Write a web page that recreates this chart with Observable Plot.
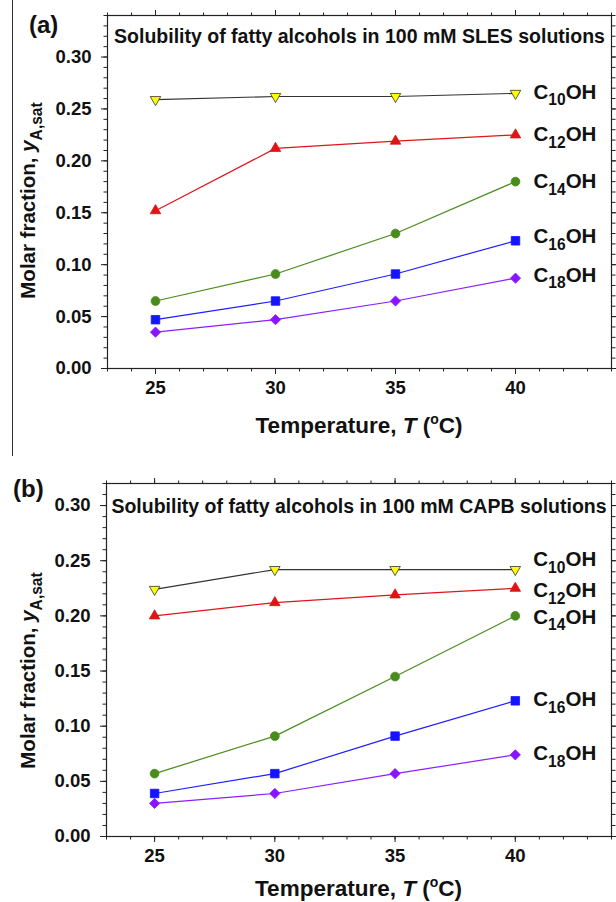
<!DOCTYPE html>
<html><head><meta charset="utf-8">
<script src="https://cdn.jsdelivr.net/npm/d3@7"></script>
<script src="https://cdn.jsdelivr.net/npm/@observablehq/plot@0.6"></script>
<style>
body{margin:0;background:#fff;}
#chart{position:relative;width:616px;height:902px;overflow:hidden;background:#fff;}
#chart svg{display:block;}
.border{position:absolute;left:12px;top:0;height:456px;border-left:1.3px solid #333;}
</style></head><body><div id="chart"><div class="border"></div></div>
<script>
// ---- data ----
const temperatures = [25, 30, 35, 40];
const alcohols = ["C10OH", "C12OH", "C14OH", "C16OH", "C18OH"];
const alcoholLabels = ["C_{10}OH", "C_{12}OH", "C_{14}OH", "C_{16}OH", "C_{18}OH"];

// (a) 100 mM SLES
const slesC10 = [0.259, 0.262, 0.262, 0.265];
const slesC12 = [0.152, 0.212, 0.219, 0.225];
const slesC14 = [0.065, 0.091, 0.130, 0.180];
const slesC16 = [0.047, 0.065, 0.091, 0.123];
const slesC18 = [0.035, 0.047, 0.065, 0.087];
const slesLabelY = [0.266, 0.225, 0.180, 0.127, 0.090];

// (b) 100 mM CAPB
const capbC10 = [0.224, 0.242, 0.242, 0.242];
const capbC12 = [0.200, 0.212, 0.219, 0.225];
const capbC14 = [0.057, 0.091, 0.145, 0.200];
const capbC16 = [0.039, 0.057, 0.091, 0.123];
const capbC18 = [0.030, 0.039, 0.057, 0.074];
const capbLabelY = [0.251, 0.223, 0.199, 0.124, 0.075];

const xDomain = [23, 44];
const xMajorTicks = [25, 30, 35, 40];
const xMinorTicks = d3.range(23, 45, 1);
const yMajorTicks = [0, 0.05, 0.10, 0.15, 0.20, 0.25, 0.30];
const slesYDomain = [0, 0.34];
const capbYDomain = [0, 0.32];

const slesTitle = "Solubility of fatty alcohols in 100 mM SLES solutions";
const capbTitle = "Solubility of fatty alcohols in 100 mM CAPB solutions";
const yLabel = "Molar fraction, *y*_{A,sat}";
const xLabel = "Temperature, *T* (^{o}C)";

// ---- styles ----
const downTriangle = {
  draw(ctx, size) {
    const s = Math.sqrt(3), y = -Math.sqrt(size / (s * 3));
    ctx.moveTo(0, -2 * y); ctx.lineTo(-s * y, y); ctx.lineTo(s * y, y); ctx.closePath();
  }
};
const seriesStyle = [
  {line: "#333333", fill: "#ffff00", stroke: "#333333", symbol: downTriangle, r: 3.9},
  {line: "#e0141c", fill: "#dd1414", stroke: "#dd1414", symbol: "triangle", r: 3.9},
  {line: "#4a8c1c", fill: "#4a8c1c", stroke: "#4a8c1c", symbol: "circle", r: 4.4},
  {line: "#1f1fff", fill: "#1414ff", stroke: "#1414ff", symbol: "square", r: 4.8},
  {line: "#8c1fff", fill: "#8a14ff", stroke: "#8a14ff", symbol: "diamond2", r: 4.6}
];

function richify(svg) {
  d3.select(svg).selectAll("text").each(function () {
    const t = this.textContent;
    if (!/[_^*]/.test(t)) return;
    const fs = parseFloat(getComputedStyle(this).fontSize);
    const el = d3.select(this);
    el.text(null);
    const re = /_\{([^}]*)\}|\^\{([^}]*)\}|\*([^*]*)\*|([^_^*]+)/g;
    let m, off = 0;
    while ((m = re.exec(t))) {
      let target = 0, size = null, italic = false, str;
      if (m[1] != null) { str = m[1]; target = 0.32 * fs; size = 0.76 * fs; }
      else if (m[2] != null) { str = m[2]; target = -0.42 * fs; size = 0.62 * fs; }
      else if (m[3] != null) { str = m[3]; italic = true; }
      else str = m[4];
      const ts = el.append("tspan").text(str);
      if (target !== off) ts.attr("dy", target - off);
      off = target;
      if (size) ts.attr("font-size", size);
      if (italic) ts.attr("font-style", "italic");
    }
  });
}

function panel(o) {
  const values = o.values;
  const rows = [];
  alcohols.forEach((name, i) => values[i].forEach((v, j) => rows.push({series: name, i, T: temperatures[j], y: v})));
  const labels = alcohols.map((name, i) => ({T: temperatures[temperatures.length - 1], y: o.labelY[i], text: alcoholLabels[i]}));
  const blank = () => "";
  const marks = [
    Plot.axisX(xMinorTicks, {anchor: "bottom", tickSize: 3.5, tickFormat: blank, stroke: "#222"}),
    Plot.axisX(xMajorTicks, {anchor: "bottom", tickSize: 6, tickPadding: 6, tickFormat: d => String(d), fontSize: 18.5, stroke: "#222"}),
    Plot.axisX(xMinorTicks, {anchor: "top", tickSize: 3.5, tickFormat: blank, stroke: "#222"}),
    Plot.axisX(xMajorTicks, {anchor: "top", tickSize: 6, tickFormat: blank, stroke: "#222"}),
    Plot.axisY(o.yMinor, {anchor: "left", tickSize: 3.5, tickFormat: blank, stroke: "#222"}),
    Plot.axisY(yMajorTicks, {anchor: "left", tickSize: 6, tickPadding: 10, tickFormat: d3.format(".2f"), fontSize: 18.5, stroke: "#222"}),
    Plot.axisY(o.yMinor, {anchor: "right", tickSize: 3.5, tickFormat: blank, stroke: "#222"}),
    Plot.axisY(yMajorTicks, {anchor: "right", tickSize: 6, tickFormat: blank, stroke: "#222"}),
    Plot.frame({stroke: "#222", strokeWidth: 1.2})
  ];
  alcohols.forEach((name, i) => {
    const st = seriesStyle[i];
    const d = rows.filter(r => r.series === name);
    marks.push(Plot.line(d, {x: "T", y: "y", stroke: st.line, strokeWidth: 1.2}));
    marks.push(Plot.dot(d, {x: "T", y: "y", symbol: st.symbol, r: st.r, fill: st.fill, stroke: st.stroke, strokeWidth: 0.8}));
  });
  marks.push(Plot.text(labels, {x: "T", y: "y", text: "text", textAnchor: "start", dx: 18, fontSize: 20.5, fill: "#111"}));
  marks.push(Plot.text([o.title], {frameAnchor: "top", lineAnchor: "middle", dy: o.titleDy, fontSize: 19.5, fill: "#111"}));
  const svg = Plot.plot({
    width: 616, height: o.height,
    marginTop: o.marginTop, marginBottom: o.marginBottom, marginLeft: o.marginLeft, marginRight: 5,
    x: {domain: xDomain, label: null},
    y: {domain: o.yDomain, label: null},
    style: {fontFamily: "'Liberation Sans', Arial, sans-serif", fontWeight: "bold", fontSize: "18px", color: "#111", background: "transparent", overflow: "visible"},
    marks
  });
  const s = d3.select(svg);
  const fx0 = o.marginLeft, fx1 = 616 - 5, fy0 = o.marginTop, fy1 = o.height - o.marginBottom;
  s.append("text").attr("x", o.tagX).attr("y", o.tagY).attr("text-anchor", "start")
    .attr("font-size", 24).attr("fill", "#111").text(o.tag);
  s.append("text").attr("transform", `translate(${o.yLabelX},${(fy0 + fy1) / 2 + o.yLabelShift}) rotate(-90)`)
    .attr("text-anchor", "middle").attr("font-size", 20.5).attr("fill", "#111").text(yLabel);
  s.append("text").attr("x", (fx0 + fx1) / 2).attr("y", o.xLabelY).attr("text-anchor", "middle")
    .attr("font-size", 22.5).attr("fill", "#111").text(xLabel);
  return svg;
}

const chart = document.getElementById("chart");
const svgA = panel({
  values: [slesC10, slesC12, slesC14, slesC16, slesC18], labelY: slesLabelY, yDomain: slesYDomain,
  yMinor: d3.range(0, 35).map(k => k / 100), title: slesTitle, titleDy: 21,
  height: 455, marginTop: 15, marginBottom: 87, marginLeft: 107,
  tag: "(a)", tagX: 29, tagY: 33, yLabelX: 35, yLabelShift: 9, xLabelY: 433
});
const svgB = panel({
  values: [capbC10, capbC12, capbC14, capbC16, capbC18], labelY: capbLabelY, yDomain: capbYDomain,
  yMinor: d3.range(0, 33).map(k => k / 100), title: capbTitle, titleDy: 23,
  height: 447, marginTop: 28, marginBottom: 66, marginLeft: 106,
  tag: "(b)", tagX: 13, tagY: 42, yLabelX: 35, yLabelShift: 11, xLabelY: 441
});
chart.appendChild(svgA);
chart.appendChild(svgB);
richify(svgA);
richify(svgB);
</script></body></html>
